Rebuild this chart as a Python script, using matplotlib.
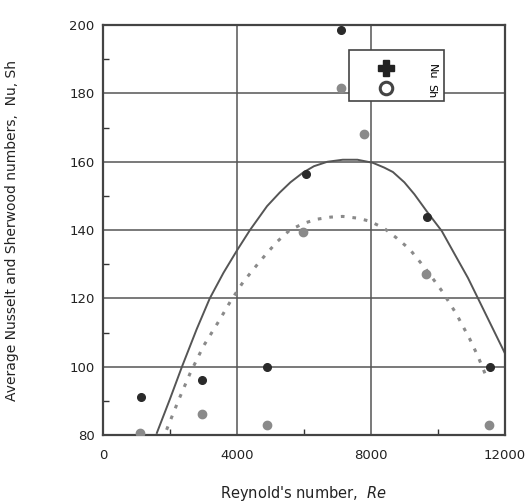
import matplotlib
matplotlib.use("Agg")
import matplotlib.pyplot as plt
from matplotlib.lines import Line2D
from matplotlib.ticker import MultipleLocator

plt.rcParams['font.family'] = ['DejaVu Sans']

# Measured data
re_nu = [1150, 2950, 4900, 6060, 7100, 9670, 11550]
nu = [91.2, 96.0, 100.0, 156.5, 198.5, 143.8, 100.0]
re_sh = [1100, 2950, 4900, 5970, 7100, 7790, 9640, 11520]
sh = [80.5, 86.0, 83.0, 139.5, 181.5, 168.0, 127.0, 83.0]

# Fitted curves
re_nu_fit = [1610, 2000, 2360, 2800, 3190, 3600, 4000, 4390, 4900, 5280, 5600, 5970, 6300, 6700,
             7160, 7600, 8060, 8400, 8660, 9000, 9300, 9670, 10120, 10500, 10900, 11250, 11650, 12000]
nu_fit = [80.6, 90.5, 100.0, 111.0, 120.0, 127.5, 134.0, 140.0, 147.0, 151.0, 154.0, 156.8, 158.7, 160.0,
          160.6, 160.6, 159.7, 158.3, 157.0, 154.0, 150.5, 145.5, 139.7, 133.0, 126.0, 119.0, 111.0, 104.0]
re_sh_fit = [1900, 2250, 2600, 3000, 3490, 3800, 4180, 4700, 5190, 5580, 6000, 6400, 6800, 7160, 7600,
             7970, 8400, 8780, 9160, 9650, 10150, 10550, 10960, 11200, 11460]
sh_fit = [81.5, 90.0, 98.0, 106.0, 113.8, 119.0, 124.7, 131.0, 136.5, 140.0, 142.0, 143.2, 143.8, 144.0, 143.5,
          142.6, 140.5, 137.6, 134.4, 128.5, 121.8, 115.5, 108.0, 103.0, 96.8]

xticks = [0, 4000, 8000, 12000]
yticks = [80, 100, 120, 140, 160, 180, 200]

fig = plt.figure(figsize=(5.28, 5.04), dpi=100)
ax = fig.add_axes([0.195, 0.137, 0.761, 0.813])

ax.set_xlim(0, 12000)
ax.set_ylim(80, 200)
ax.set_xticks(xticks)
ax.set_yticks(yticks)
ax.set_xticklabels([str(v) for v in xticks])
ax.set_yticklabels([str(v) for v in yticks])
ax.xaxis.set_minor_locator(MultipleLocator(2000))
ax.yaxis.set_minor_locator(MultipleLocator(10))
ax.tick_params(which='both', direction='in', colors='#333333', labelsize=9.5, labelcolor='#222222')
ax.tick_params(which='major', length=0)
ax.tick_params(axis='x', which='major', pad=10)
ax.tick_params(axis='y', which='major', pad=6)
ax.tick_params(which='minor', length=4, width=1)
ax.grid(True, which='major', color='#555555', linewidth=1.1)
for s in ax.spines.values():
    s.set_color('#444444')
    s.set_linewidth(1.6)

ax.plot(re_nu_fit, nu_fit, '-', color='#555555', lw=1.4)
ax.plot(re_sh_fit, sh_fit, linestyle=(0, (1.2, 2.6)), color='#8a8a8a', lw=2.2)
ax.plot(re_nu, nu, 'o', color='#2a2a2a', ms=5.5, zorder=5)
ax.plot(re_sh, sh, 'o', color='#8a8a8a', ms=6, zorder=5)

handles = [Line2D([], [], marker='P', color='#222222', ls='none', ms=11),
           Line2D([], [], marker='o', mfc='white', mec='#444444', mew=2.2, ls='none', ms=9)]
leg = ax.legend(handles, ['Nu', 'Sh'], loc='upper right', bbox_to_anchor=(0.863, 0.952),
                frameon=True, fancybox=False, edgecolor='#444444', framealpha=1,
                fontsize=8, handlelength=5.4, handletextpad=0.9, borderpad=0.7, labelspacing=0.5)
leg.get_frame().set_linewidth(1.2)
for t in leg.get_texts():
    t.set_rotation(-90)
    t.set_va('center')

ax.set_xlabel("Reynold's number,  $\\mathit{Re}$", fontsize=10.5, labelpad=16, color='#222222')
ax.set_ylabel('Average Nusselt and Sherwood numbers,  Nu, Sh', fontsize=10, labelpad=36, color='#222222')

fig.savefig('out.png', dpi=100)
